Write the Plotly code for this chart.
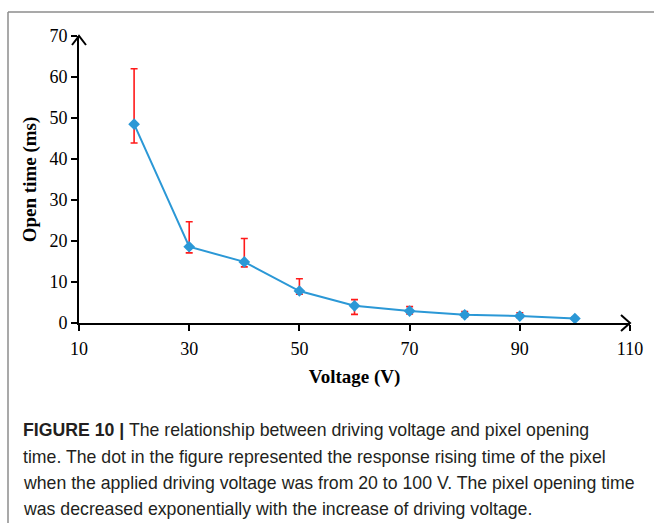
import plotly.graph_objects as go

# Driving voltage (V) and measured pixel opening time (ms)
voltage = [20, 30, 40, 50, 60, 70, 80, 90, 100]
open_time = [48.5, 18.6, 14.9, 7.8, 4.2, 2.9, 2.0, 1.7, 1.1]
err_plus = [13.5, 6.1, 5.7, 3.0, 1.5, 1.1, 0.8, 0.8, 0.3]
err_minus = [4.6, 1.5, 1.2, 0.8, 2.1, 0.7, 0.5, 0.4, 0.3]

x_ticks = [10, 30, 50, 70, 90, 110]
y_ticks = [0, 10, 20, 30, 40, 50, 60, 70]

caption_lines = [
    "<b>FIGURE 10 |</b> The relationship between driving voltage and pixel opening",
    "time. The dot in the figure represented the response rising time of the pixel",
    "when the applied driving voltage was from 20 to 100 V. The pixel opening time",
    "was decreased exponentially with the increase of driving voltage.",
]

W, H = 654, 523
ML, MR, MT, MB = 79, 24, 36, 200
plot_h = H - MT - MB
plot_w = W - ML - MR


def px_to_paper_y(py):
    return (H - MB - py) / plot_h


def px_to_paper_x(px):
    return (px - ML) / plot_w


serif = "Liberation Serif, Times New Roman, serif"
sans = "Liberation Sans, Arial, sans-serif"

fig = go.Figure()
fig.add_trace(go.Scatter(
    x=voltage, y=open_time,
    mode="lines+markers",
    line=dict(color="#2b98d6", width=2),
    marker=dict(symbol="diamond", size=9, color="#2b98d6"),
    error_y=dict(type="data", symmetric=False, array=err_plus, arrayminus=err_minus,
                 color="#ff1a1a", thickness=1.6, width=3.5),
    showlegend=False,
))

fig.update_layout(
    width=W, height=H,
    margin=dict(l=ML, r=MR, t=MT, b=MB),
    paper_bgcolor="white", plot_bgcolor="white",
    xaxis=dict(
        range=[10, 110], tickvals=x_ticks, showgrid=False, zeroline=False,
        showline=True, linecolor="black", linewidth=2,
        ticks="outside", ticklen=6, tickwidth=1.6, tickcolor="black",
        tickfont=dict(family=serif, size=18, color="black"),
        ticklabelstandoff=2,
        title=dict(text="<b>Voltage (V)</b>", font=dict(family=serif, size=19, color="black"),
                   standoff=12),
    ),
    yaxis=dict(
        range=[0, 70], tickvals=y_ticks, showgrid=False, zeroline=False,
        showline=True, linecolor="black", linewidth=2,
        ticks="outside", ticklen=6, tickwidth=1.6, tickcolor="black",
        tickfont=dict(family=serif, size=18, color="black"),
        title=dict(text="<b>Open time (ms)</b>", font=dict(family=serif, size=19, color="black"),
                   standoff=8),
    ),
)

# Arrow heads at the ends of both axes (paper refs so they are not clipped)
fig.add_shape(type="path", xref="paper", yref="paper", xsizemode="pixel", ysizemode="pixel",
              xanchor=0, yanchor=1, path="M-7,-9 L0,0 L7,-9",
              line=dict(color="black", width=2))
fig.add_shape(type="path", xref="paper", yref="paper", xsizemode="pixel", ysizemode="pixel",
              xanchor=1, yanchor=0, path="M-9,-8 L0,0 L-9,8",
              line=dict(color="black", width=2))

# Page frame around the figure
frame = dict(color="#8c8c8c", width=1.5)
fig.add_shape(type="line", xref="paper", yref="paper",
              x0=px_to_paper_x(8), x1=px_to_paper_x(W + 5),
              y0=px_to_paper_y(12), y1=px_to_paper_y(12), line=frame)
fig.add_shape(type="line", xref="paper", yref="paper",
              x0=px_to_paper_x(8), x1=px_to_paper_x(8),
              y0=px_to_paper_y(12), y1=px_to_paper_y(H + 5), line=frame)

# Caption below the chart
for i, line in enumerate(caption_lines):
    fig.add_annotation(
        xref="paper", yref="paper",
        x=px_to_paper_x(21), y=px_to_paper_y(430 + i * 26.5),
        xanchor="left", yanchor="middle", showarrow=False,
        text=line, align="left",
        font=dict(family=sans, size=17.7, color="#231f20"),
    )

fig.write_html("out.html")
